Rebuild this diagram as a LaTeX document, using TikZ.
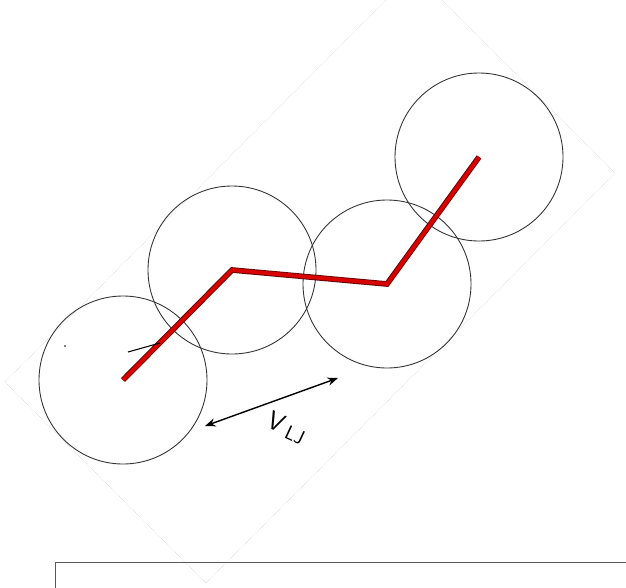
\documentclass[tikz,border=0pt]{standalone}
\usepackage{tikz}
\usetikzlibrary{arrows.meta,calc}
\begin{document}
\begin{tikzpicture}[x=0.03cm,y=-0.03cm,>={Stealth[length=9pt,width=7pt]},
  bead/.style={draw=black!80,circle,line width=0.75pt,minimum size=5.04cm,inner sep=0pt},
  rodout/.style={line width=4.8pt,draw=red!40!black},
  rodin/.style={line width=3.2pt,draw=red!85!black},
  frame/.style={draw=black!35,densely dotted,line width=0.3pt}]
  \useasboundingbox (0,0) rectangle (626,587);
  \clip (0,0) rectangle (626,587);
  \draw[frame] (5,382)--(206,583)--(615,173)--(414,-28)--cycle;
  \draw[black!65,line width=0.8pt] (55,620) |- (640,562);
  \node[bead](b1) at (123,380){};
  \node[bead](b2) at (232,270){};
  \node[bead](b3) at (387,284){};
  \node[bead](b4) at (479,157){};
  \draw[rodout] (b1.center)--(b2.center)--(b3.center)--(b4.center);
  \draw[rodin] (b1.center)--(b2.center)--(b3.center)--(b4.center);
  \coordinate(t0) at (128,352); \coordinate(t1) at (160,343);
  \draw[line width=0.9pt] (t0)--(t1);
  \fill (65,346) circle (0.9);
  \coordinate(p) at (205,426); \coordinate(q) at (338,378);
  \draw[<->,line width=1.2pt] (p)--(q);
  \node[rotate=-25,font=\sffamily\fontsize{22}{26}\selectfont] (vlj) at (287,428) {V\,\raisebox{-0.2ex}{\fontsize{17}{20}\selectfont LJ}};
\end{tikzpicture}
\end{document}
